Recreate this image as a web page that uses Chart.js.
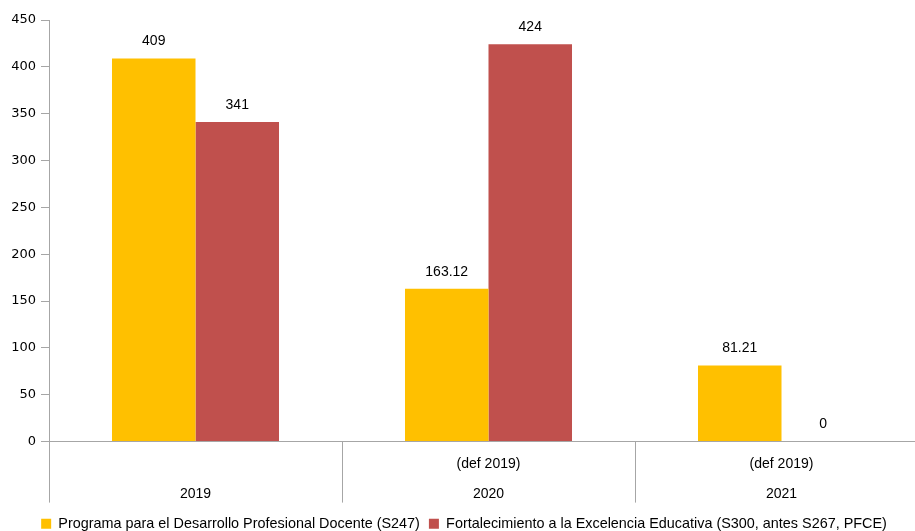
<!DOCTYPE html>
<html>
<head>
<meta charset="utf-8">
<script src="https://cdn.jsdelivr.net/npm/chart.js@4"></script>
<style>
  html, body { margin: 0; padding: 0; background: #fff; overflow: hidden; }
  #wrap { width: 928px; height: 541px; position: relative; }
</style>
</head>
<body>
<div id="wrap"><canvas id="chart"></canvas></div>
<script>
const categories = [['', '2019'], ['(def 2019)', '2020'], ['(def 2019)', '2021']];
const seriesNames = [
  'Programa para el Desarrollo Profesional Docente (S247)',
  'Fortalecimiento a la Excelencia Educativa (S300, antes S267, PFCE)'
];
const desarrolloDocente = [409, 163.12, 81.21];
const excelenciaEducativa = [341, 424, 0];
const yTicks = [0, 50, 100, 150, 200, 250, 300, 350, 400, 450];

const CAT_FONT = '"Liberation Sans", sans-serif';

// value labels above each bar
const valueLabels = {
  id: 'valueLabels',
  afterDatasetsDraw(chart) {
    const ctx = chart.ctx;
    ctx.save();
    ctx.font = '14px ' + CAT_FONT;
    ctx.fillStyle = '#000';
    ctx.textAlign = 'center';
    ctx.textBaseline = 'middle';
    chart.data.datasets.forEach((ds, i) => {
      chart.getDatasetMeta(i).data.forEach((bar, j) => {
        ctx.fillText(String(ds.data[j]), bar.x, bar.y - 17);
      });
    });
    ctx.restore();
  }
};

new Chart(document.getElementById('chart'), {
  type: 'bar',
  data: {
    labels: categories,
    datasets: [
      { label: seriesNames[0], data: desarrolloDocente, backgroundColor: '#FFC000' },
      { label: seriesNames[1], data: excelenciaEducativa, backgroundColor: '#C0504D' }
    ]
  },
  plugins: [valueLabels],
  options: {
    responsive: true,
    maintainAspectRatio: false,
    animation: false,
    categoryPercentage: 0.57,
    barPercentage: 1.0,
    layout: { padding: { top: 20, right: 0, bottom: 0, left: 0 } },
    plugins: {
      legend: {
        position: 'bottom',
        labels: {
          boxWidth: 10,
          boxHeight: 10,
          padding: 9,
          color: '#000',
          font: { family: CAT_FONT, size: 14.4 }
        }
      },
      tooltip: { enabled: false }
    },
    scales: {
      x: {
        afterFit: (s) => { s.height = 66; },
        border: { color: '#a6a6a6', width: 1 },
        grid: {
          display: true,
          drawOnChartArea: false,
          drawTicks: true,
          tickLength: 61,
          color: '#a6a6a6',
          offset: true
        },
        ticks: {
          padding: -54,
          color: '#000',
          font: { family: CAT_FONT, size: 14, lineHeight: 2.15 },
          maxRotation: 0
        }
      },
      y: {
        min: 0,
        max: 450,
        afterFit: (s) => { s.width = 49; },
        afterBuildTicks: (s) => { s.ticks = yTicks.map(v => ({ value: v })); },
        border: { color: '#a6a6a6', width: 1 },
        grid: {
          drawOnChartArea: false,
          drawTicks: true,
          tickLength: 8,
          color: '#a6a6a6'
        },
        ticks: {
          padding: 5,
          color: '#000',
          font: { family: '"DejaVu Sans", sans-serif', size: 13 }
        }
      }
    }
  }
});
</script>
</body>
</html>
